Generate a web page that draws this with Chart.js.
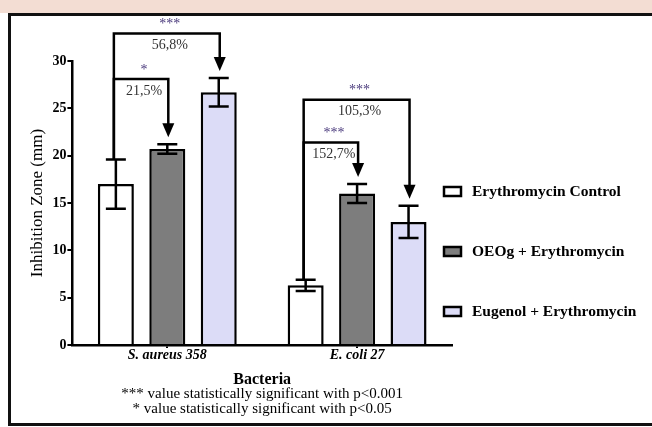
<!DOCTYPE html>
<html>
<head>
<meta charset="utf-8">
<script src="https://cdn.jsdelivr.net/npm/chart.js@4.4.0/dist/chart.umd.min.js"></script>
<style>
html, body { margin: 0; padding: 0; background: #fff; }
#band { position: absolute; left: 0; top: 0; width: 652px; height: 13px; background: #f3ddd3; }
#frame { position: absolute; left: 8px; top: 13px; width: 700px; height: 407px; border: 3px solid #111; }
#wrap { position: absolute; left: 0; top: 0; width: 652px; height: 427px; }
</style>
</head>
<body>
<div id="band"></div>
<div id="frame"></div>
<div id="wrap"><canvas id="chart" width="652" height="427"></canvas></div>
<script>
const categories = ['S. aureus 358', 'E. coli 27'];
const seriesNames = ['Erythromycin Control', 'OEOg + Erythromycin', 'Eugenol + Erythromycin'];
const controlValues = [17.0, 6.3];
const oeogValues = [20.7, 16.0];
const eugenolValues = [26.7, 13.0];
const controlErrors = [2.6, 0.6];
const oeogErrors = [0.5, 1.0];
const eugenolErrors = [1.5, 1.7];

// significance brackets: group index, target series, bracket height (mm), label
const bracketGroup = [0, 0, 1, 1];
const bracketTarget = [2, 1, 2, 1];
const bracketLevel = [32.9, 28.1, 25.9, 21.4];
const bracketStars = ['***', '*', '***', '***'];
const bracketPercent = ['56,8%', '21,5%', '105,3%', '152,7%'];

const footnotes = [
    '*** value statistically significant with p<0.001',
    '* value statistically significant with p<0.05'
];

const fillColors = ['#ffffff', '#7d7d7d', '#dcdcf7'];
const allErrors = [controlErrors, oeogErrors, eugenolErrors];
const serif = "'Liberation Serif', 'DejaVu Serif', serif";

const errorBars = {
    id: 'errorBars',
    afterDatasetsDraw(chart) {
        const ctx = chart.ctx;
        const y = chart.scales.y;
        ctx.save();
        ctx.strokeStyle = '#000';
        ctx.lineWidth = 2.5;
        chart.data.datasets.forEach((ds, i) => {
            const meta = chart.getDatasetMeta(i);
            meta.data.forEach((bar, j) => {
                const v = ds.data[j], e = allErrors[i][j];
                const top = y.getPixelForValue(v + e);
                const bot = y.getPixelForValue(v - e);
                ctx.beginPath();
                ctx.moveTo(bar.x, top); ctx.lineTo(bar.x, bot);
                ctx.moveTo(bar.x - 10, top); ctx.lineTo(bar.x + 10, top);
                ctx.moveTo(bar.x - 10, bot); ctx.lineTo(bar.x + 10, bot);
                ctx.stroke();
            });
        });
        ctx.restore();
    }
};

const brackets = {
    id: 'brackets',
    afterDraw(chart) {
        const ctx = chart.ctx;
        const y = chart.scales.y;
        const datasets = chart.data.datasets;
        ctx.save();
        ctx.strokeStyle = '#000';
        ctx.fillStyle = '#000';
        ctx.lineWidth = 2.5;
        bracketGroup.forEach((g, k) => {
            const t = bracketTarget[k];
            const x0 = chart.getDatasetMeta(0).data[g].x - 2;
            const x1 = chart.getDatasetMeta(t).data[g].x + 1;
            const start = y.getPixelForValue(datasets[0].data[g] + allErrors[0][g]);
            const level = y.getPixelForValue(bracketLevel[k]);
            const tip = y.getPixelForValue(datasets[t].data[g] + allErrors[t][g]) - 7;
            ctx.beginPath();
            ctx.moveTo(x0, start);
            ctx.lineTo(x0, level);
            ctx.lineTo(x1, level);
            ctx.lineTo(x1, tip - 12);
            ctx.stroke();
            ctx.beginPath();
            ctx.moveTo(x1 - 6, tip - 14);
            ctx.lineTo(x1 + 6, tip - 14);
            ctx.lineTo(x1, tip);
            ctx.closePath();
            ctx.fill();

            const mid = (x0 + x1) / 2 + 3;
            ctx.textAlign = 'center';
            ctx.textBaseline = 'middle';
            ctx.font = '14px ' + serif;
            ctx.fillStyle = '#4a3a7c';
            ctx.fillText(bracketStars[k], mid, level - 9);
            ctx.fillStyle = '#333';
            ctx.fillText(bracketPercent[k], mid, level + 12);
            ctx.fillStyle = '#000';
        });

        // legend
        const rowY = [192, 252, 312];
        datasets.forEach((ds, i) => {
            ctx.fillStyle = ds.backgroundColor;
            ctx.fillRect(444, rowY[i] - 5, 17, 9);
            ctx.strokeRect(444, rowY[i] - 5, 17, 9);
            ctx.fillStyle = '#000';
            ctx.font = 'bold 15.5px ' + serif;
            ctx.textAlign = 'left';
            ctx.fillText(ds.label, 472, rowY[i]);
        });

        // footnotes
        ctx.font = '15px ' + serif;
        ctx.textAlign = 'center';
        const cx = (chart.chartArea.left + chart.chartArea.right) / 2;
        footnotes.forEach((line, i) => {
            ctx.fillText(line, cx, 394 + i * 15);
        });
        ctx.restore();
    }
};

new Chart(document.getElementById('chart'), {
    type: 'bar',
    data: {
        labels: categories,
        datasets: [
            { label: seriesNames[0], data: controlValues, backgroundColor: fillColors[0] },
            { label: seriesNames[1], data: oeogValues, backgroundColor: fillColors[1] },
            { label: seriesNames[2], data: eugenolValues, backgroundColor: fillColors[2] }
        ].map(d => Object.assign(d, {
            borderColor: '#000',
            borderWidth: 2.5,
            categoryPercentage: 0.813,
            barPercentage: 0.7
        }))
    },
    options: {
        responsive: false,
        animation: false,
        layout: { padding: { left: 27, right: 200, top: 61, bottom: 38 } },
        plugins: {
            legend: { display: false },
            tooltip: { enabled: false }
        },
        scales: {
            x: {
                grid: { display: true, drawOnChartArea: false, offset: false, color: '#000', lineWidth: 2, tickLength: 3 },
                border: { display: true, color: '#000', width: 2.5 },
                ticks: { color: '#000', padding: -1, font: { family: serif, size: 14, weight: 'bold', style: 'italic' } },
                title: { display: true, text: 'Bacteria', color: '#000', padding: { top: 7, bottom: 0 },
                    font: { family: serif, size: 16, weight: 'bold' } }
            },
            y: {
                min: 0,
                max: 30,
                grid: { display: true, drawOnChartArea: false, color: '#000', lineWidth: 2, tickLength: 5 },
                border: { display: true, color: '#000', width: 2.5 },
                ticks: { stepSize: 5, color: '#000', padding: 1, font: { family: serif, size: 14, weight: 'bold' } },
                title: { display: true, text: 'Inhibition Zone (mm)', color: '#000', padding: { top: 0, bottom: 4 },
                    font: { family: serif, size: 17 } }
            }
        }
    },
    plugins: [errorBars, brackets]
});
</script>
</body>
</html>
